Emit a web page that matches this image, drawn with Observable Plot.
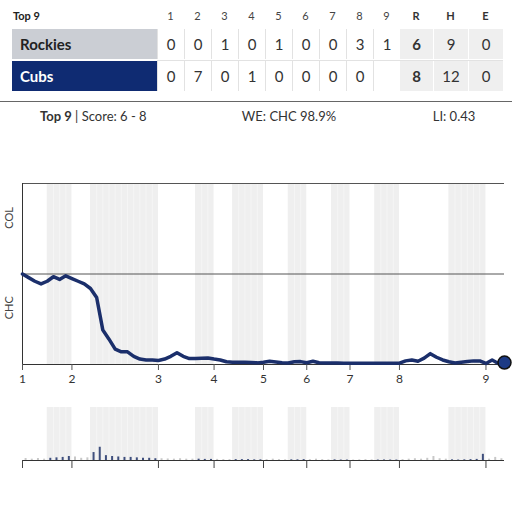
<!DOCTYPE html>
<html>
<head>
<meta charset="utf-8">
<script src="https://cdn.jsdelivr.net/npm/d3@7"></script>
<script src="https://cdn.jsdelivr.net/npm/@observablehq/plot@0.6"></script>
<style>
  html, body { margin: 0; padding: 0; background: #fff; }
  body { width: 512px; height: 512px; position: relative; overflow: hidden; font-family: Lato, "Open Sans", sans-serif; color: #333; }
  .abs { position: absolute; }
  .hdr { font-size: 11px; color: #444; text-align: center; width: 27px; top: 9px; }
  .cell { font-size: 15px; text-align: center; line-height: 30px; height: 30px; box-sizing: border-box; }
  .inn { border-left: 1px solid #e2e2e2; background: #fff; }
  .tot { background: #efefef; border-left: 1px solid #fff; }
  .lab { font-size: 15px; font-weight: bold; line-height: 30px; height: 30px; padding-left: 8px; box-sizing: border-box; }
  #chart, #lev { position: absolute; left: 0; }
</style>
</head>
<body>
<div id="root"></div>
<div id="chart" style="top:170px"></div>
<div id="lev" style="top:395px"></div>
<script>
// ---------- data ----------
const teams = ["Rockies", "Cubs"];
const inningLabels = ["1","2","3","4","5","6","7","8","9"];
const rockiesLine = ["0","0","1","0","1","0","0","3","1"];
const cubsLine = ["0","7","0","1","0","0","0","0",""];
const rockiesRHE = ["6","9","0"];
const cubsRHE = ["8","12","0"];
const rheLabels = ["R","H","E"];
const stateLabel = "Top 9";
const scoreText = "Score: 6 - 8";
const weText = "WE: CHC 98.9%";
const liText = "LI: 0.43";

// plate-appearance index where each half inning starts (top 1, bottom 1, top 2, ...)
const halfStarts = [0,4,8,11,22,28,31,34,39,43,46,50,53,57,61,69,75];
const lastIndex = 78;
// Rockies win expectancy after each plate appearance (0 = CHC wins, 1 = COL wins)
const colWE = [
  0.50,0.48,0.46,0.445,0.46,0.485,0.47,0.49,0.475,0.46,
  0.445,0.42,0.37,0.19,0.14,0.085,0.07,0.07,0.045,0.03,
  0.025,0.025,0.022,0.03,0.045,0.065,0.045,0.033,0.033,0.035,
  0.036,0.03,0.025,0.015,0.012,0.012,0.012,0.011,0.009,0.012,
  0.018,0.014,0.01,0.008,0.015,0.016,0.01,0.018,0.01,0.008,
  0.008,0.008,0.007,0.007,0.007,0.007,0.007,0.007,0.007,0.007,
  0.007,0.007,0.02,0.025,0.018,0.035,0.06,0.04,0.025,0.015,
  0.008,0.012,0.016,0.02,0.02,0.006,0.025,0.006,0.011
];
// leverage index of each plate appearance
const leverage = [
  0.45,0.3,0.45,0.3,
  0.5,0.6,0.7,0.9,
  0.8,0.5,0.6,
  1.8,3.0,1.1,0.9,0.8,0.7,0.7,0.6,0.5,0.5,0.4,
  0.4,0.35,0.3,0.4,0.3,0.3,
  0.3,0.25,0.25,
  0.25,0.2,0.2,
  0.2,0.2,0.2,0.15,0.15,
  0.2,0.3,0.2,0.15,
  0.15,0.15,0.2,
  0.2,0.3,0.2,0.15,
  0.15,0.1,0.1,
  0.1,0.15,0.2,0.15,
  0.1,0.1,0.1,0.1,
  0.2,0.3,0.4,0.3,0.5,0.9,0.4,0.3,
  0.15,0.1,0.15,0.2,0.25,1.4,
  0.3,0.7,0.4
];

// ---------- colors ----------
const navy = "#0f2b72";
const lineNavy = "#1b2f6b";
const bandGray = "#efefef";

// ---------- box score ----------
const root = document.getElementById("root");
function add(html) { root.insertAdjacentHTML("beforeend", html); }
add(`<div class="abs" style="left:13px;top:9px;font-size:11px;font-weight:bold;color:#222">${stateLabel}</div>`);
const innX0 = 157, innW = 27;
inningLabels.forEach((t, i) => add(`<div class="abs hdr" style="left:${innX0 + i*innW}px">${t}</div>`));
const totX = [399, 433, 468], totW = [34, 35, 35];
rheLabels.forEach((t, i) => add(`<div class="abs hdr" style="left:${totX[i]}px;width:${totW[i]}px;font-weight:bold;color:#333">${t}</div>`));
const rows = [
  {name: teams[0], line: rockiesLine, rhe: rockiesRHE, top: 29, bg: "#cbced4", fg: "#222"},
  {name: teams[1], line: cubsLine, rhe: cubsRHE, top: 61, bg: navy, fg: "#fff"}
];
rows.forEach(r => {
  add(`<div class="abs lab" style="left:12px;top:${r.top}px;width:145px;background:${r.bg};color:${r.fg}">${r.name}</div>`);
  r.line.forEach((v, i) => add(`<div class="abs cell inn" style="left:${innX0 + i*innW}px;top:${r.top}px;width:${innW}px">${v}</div>`));
  r.rhe.forEach((v, i) => add(`<div class="abs cell tot" style="left:${totX[i]}px;top:${r.top}px;width:${totW[i]}px;${i===0?'font-weight:bold;':''}">${v}</div>`));
});
add(`<div class="abs" style="left:157px;top:60px;width:346px;height:1px;background:#e2e2e2"></div>`);
add(`<div class="abs" style="left:0;top:101px;width:512px;height:1px;background:#666"></div>`);
add(`<div class="abs" style="left:40px;top:108px;font-size:13px;color:#333"><b>${stateLabel}</b> | ${scoreText}</div>`);
add(`<div class="abs" style="left:189px;width:200px;text-align:center;top:108px;font-size:13px;color:#333">${weText}</div>`);
add(`<div class="abs" style="left:404px;width:100px;text-align:center;top:108px;font-size:13px;color:#333">${liText}</div>`);

// ---------- derived tables ----------
const inningStarts = halfStarts.filter((d, i) => i % 2 === 0);
const bands = halfStarts.map((d, i) => ({x1: d, x2: i + 1 < halfStarts.length ? halfStarts[i+1] : lastIndex, bottom: i % 2 === 1}))
  .filter(b => b.bottom);
const weData = colWE.map((v, i) => ({i, v}));
const halfOf = j => { let h = 0; halfStarts.forEach((s, k) => { if (j >= s) h = k; }); return h; };
const levData = leverage.map((v, j) => ({x: j + 0.5, v, bottom: halfOf(j) % 2 === 1}));
const bandRules = [];
bands.forEach(b => { for (let k = b.x1 + 1; k < b.x2; k++) bandRules.push(k); });
const tickLabel = new Map(inningStarts.map((d, i) => [d, inningLabels[i]]));
const yLabels = [{y: 0.75, t: "COL"}, {y: 0.25, t: "CHC"}];

// ---------- win expectancy chart ----------
const chart = Plot.plot({
  width: 512, height: 230,
  marginLeft: 22, marginRight: 8, marginTop: 13, marginBottom: 36,
  style: {fontFamily: "Lato, sans-serif", background: "transparent"},
  x: {domain: [0, lastIndex], axis: null},
  y: {domain: [0, 1], axis: null},
  marks: [
    Plot.rectX(bands, {x1: "x1", x2: "x2", y1: 0, y2: 1, fill: bandGray}),
    Plot.ruleX(bandRules, {y1: 0, y2: 1, stroke: "#f5f5f5", strokeWidth: 1}),
    Plot.ruleY([1, 0.5], {x1: 0, x2: lastIndex, stroke: "#555", strokeWidth: 1}),
    Plot.ruleY([0], {x1: 0, x2: lastIndex, stroke: "#333", strokeWidth: 1}),
    Plot.ruleX([0], {y1: 0, y2: 1, stroke: "#333", strokeWidth: 1}),
    Plot.axisX({ticks: inningStarts, tickSize: 6, tickPadding: 4, fontSize: 12,
      tickFormat: d => tickLabel.get(d), stroke: "#555", color: "#333"}),
    Plot.text(yLabels, {y: "y", text: "t", frameAnchor: "left", dx: -13, rotate: -90, fontSize: 11, fill: "#444"}),
    Plot.line(weData, {x: "i", y: "v", stroke: lineNavy, strokeWidth: 3.5, strokeLinejoin: "round", strokeLinecap: "round"}),
    Plot.dot(weData.slice(-1), {x: "i", y: "v", r: 6.5, fill: "#1c3a85", stroke: "#111", strokeWidth: 1.5})
  ]
});
document.getElementById("chart").appendChild(chart);

// ---------- leverage chart ----------
const lev = Plot.plot({
  width: 512, height: 80,
  marginLeft: 22, marginRight: 8, marginTop: 12, marginBottom: 15,
  style: {fontFamily: "Lato, sans-serif", background: "transparent"},
  x: {domain: [0, lastIndex], axis: null},
  y: {domain: [0, 12], axis: null},
  marks: [
    Plot.rectX(bands, {x1: "x1", x2: "x2", y1: 0, y2: 12, fill: bandGray}),
    Plot.ruleX(bandRules, {y1: 0, y2: 12, stroke: "#f5f5f5", strokeWidth: 1}),
    Plot.ruleX(levData, {x: "x", y1: 0, y2: "v", stroke: d => d.bottom ? "#3f4f7d" : "#c8c8c8", strokeWidth: 2}),
    Plot.ruleY([0], {x1: 0, x2: lastIndex, stroke: "#333", strokeWidth: 1}),
    Plot.axisX({ticks: inningStarts, tickSize: 8, tickFormat: () => "", stroke: "#444"})
  ]
});
document.getElementById("lev").appendChild(lev);
</script>
</body>
</html>
